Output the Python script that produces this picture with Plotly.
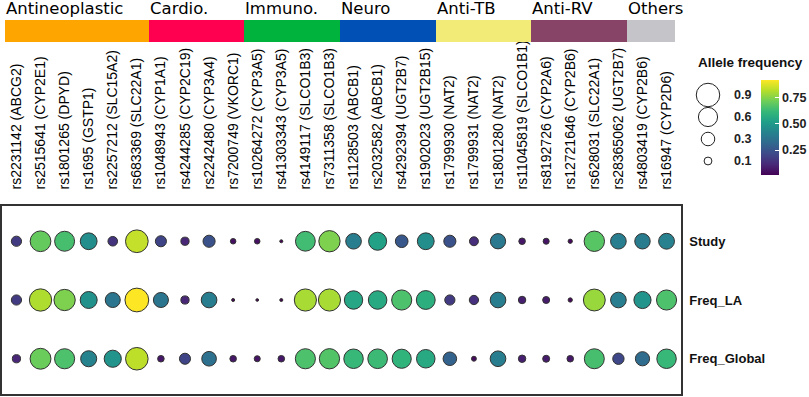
import plotly.graph_objects as go

# ---------------- data ----------------
snps = [
    "rs2231142 (ABCG2)", "rs2515641 (CYP2E1)", "rs1801265 (DPYD)", "rs1695 (GSTP1)",
    "rs2257212 (SLC15A2)", "rs683369 (SLC22A1)", "rs1048943 (CYP1A1)", "rs4244285 (CYP2C19)",
    "rs2242480 (CYP3A4)", "rs7200749 (VKORC1)", "rs10264272 (CYP3A5)", "rs41303343 (CYP3A5)",
    "rs4149117 (SLCO1B3)", "rs7311358 (SLCO1B3)", "rs1128503 (ABCB1)", "rs2032582 (ABCB1)",
    "rs4292394 (UGT2B7)", "rs1902023 (UGT2B15)", "rs1799930 (NAT2)", "rs1799931 (NAT2)",
    "rs1801280 (NAT2)", "rs11045819 (SLCO1B1)", "rs8192726 (CYP2A6)", "rs12721646 (CYP2B6)",
    "rs628031 (SLC22A1)", "rs28365062 (UGT2B7)", "rs4803419 (CYP2B6)", "rs16947 (CYP2D6)",
]

rows = ["Study", "Freq_LA", "Freq_Global"]

study = [0.17, 0.70, 0.65, 0.46, 0.15, 0.84, 0.20, 0.11, 0.24, 0.05, 0.05, 0.015,
         0.64, 0.74, 0.40, 0.53, 0.26, 0.46, 0.24, 0.13, 0.38, 0.07, 0.06, 0.03,
         0.68, 0.40, 0.39, 0.41]
freq_la = [0.17, 0.81, 0.74, 0.47, 0.37, 0.92, 0.37, 0.11, 0.40, 0.015, 0.012, 0.015,
           0.80, 0.80, 0.55, 0.56, 0.66, 0.58, 0.17, 0.14, 0.40, 0.09, 0.08, 0.03,
           0.78, 0.40, 0.48, 0.66]
freq_global = [0.11, 0.71, 0.66, 0.42, 0.48, 0.83, 0.07, 0.20, 0.35, 0.07, 0.06, 0.07,
               0.66, 0.67, 0.62, 0.63, 0.60, 0.56, 0.30, 0.04, 0.40, 0.09, 0.08, 0.07,
               0.65, 0.21, 0.33, 0.62]

categories = ["Antineoplastic", "Cardio.", "Immuno.", "Neuro", "Anti-TB", "Anti-RV", "Others"]
category_counts = [6, 4, 4, 4, 4, 4, 2]
category_colors = ["#FFA500", "#FF0050", "#00B33C", "#0050B5", "#F2EB77", "#874466", "#C5C5C9"]

size_legend_values = [0.9, 0.6, 0.3, 0.1]
colorbar_ticks = [0.25, 0.50, 0.75]
colorbar_ticktext = ["0.25", "0.50", "0.75"]

# ---------------- helpers ----------------
W, H = 809, 397
def px_x(p):
    return p / W
def px_y(p):
    return 1 - p / H

all_vals = study + freq_la + freq_global
vmin, vmax = min(all_vals), max(all_vals)
SIZEREF = 2 * 0.9 / (23.5 ** 2)

xs, ys, vs = [], [], []
for name, vals in zip(rows, [study, freq_la, freq_global]):
    for s, v in zip(snps, vals):
        xs.append(s)
        ys.append(name)
        vs.append(v)

fig = go.Figure()

# main bubble trace
fig.add_trace(go.Scatter(
    x=xs, y=ys, mode="markers",
    marker=dict(
        size=vs, sizemode="area", sizeref=SIZEREF, sizemin=0, opacity=1,
        color=vs, colorscale="Viridis", cmin=vmin, cmax=vmax,
        line=dict(color="#333333", width=1.0),
        showscale=True,
        colorbar=dict(
            x=px_x(761), xanchor="left", xpad=0,
            y=px_y(80), yanchor="top", ypad=0,
            len=95, lenmode="pixels", thickness=18, outlinewidth=0,
            tickvals=colorbar_ticks, ticktext=colorbar_ticktext,
            ticks="inside", ticklen=4, tickcolor="white", tickwidth=1,
            tickfont=dict(family="Liberation Sans", size=12.5, color="#222", weight="bold"),
        ),
    ),
    hoverinfo="skip", showlegend=False, cliponaxis=False,
))

# size legend
fig.add_trace(go.Scatter(
    x=[0.5] * len(size_legend_values), y=list(range(len(size_legend_values))),
    xaxis="x2", yaxis="y2", mode="markers",
    marker=dict(size=size_legend_values, sizemode="area", sizeref=SIZEREF, opacity=1,
                color="white", line=dict(color="#222", width=1)),
    hoverinfo="skip", showlegend=False, cliponaxis=False,
))

# category bar
col_cat_colors = []
for c, n in zip(category_colors, category_counts):
    col_cat_colors += [c] * n
fig.add_trace(go.Bar(
    x=list(range(len(snps))), y=[1] * len(snps), width=1.0,
    xaxis="x4", yaxis="y3",
    marker=dict(color=col_cat_colors, line=dict(width=0)),
    hoverinfo="skip", showlegend=False,
))

annotations = []
start = 0
for name, n in zip(categories, category_counts):
    annotations.append(dict(
        x=start - 0.5, xref="x4", xanchor="left",
        y=px_y(19), yref="paper", yanchor="bottom",
        text=name, showarrow=False,
        font=dict(family="DejaVu Sans", size=16.5, color="black"),
        borderpad=0,
    ))
    start += n

annotations.append(dict(
    x=px_x(696), xref="paper", xanchor="left",
    y=px_y(63), yref="paper", yanchor="middle",
    text="<b>Allele frequency</b>", showarrow=False,
    font=dict(family="Liberation Sans", size=13.5, color="#111"),
))
for i, v in enumerate(size_legend_values):
    annotations.append(dict(
        x=px_x(732), xref="paper", xanchor="left",
        y=i, yref="y2", yanchor="middle",
        text=f"<b>{v}</b>", showarrow=False,
        font=dict(family="Liberation Sans", size=12.5, color="#222"),
    ))

fig.update_layout(
    width=W, height=H,
    margin=dict(l=0, r=0, t=0, b=0, autoexpand=False),
    paper_bgcolor="white", plot_bgcolor="white",
    bargap=0,
    xaxis=dict(
        domain=[px_x(2), px_x(681)], type="category", categoryorder="array", categoryarray=snps,
        range=[-0.6, len(snps) - 0.4], side="top", tickangle=-90,
        showline=True, mirror=True, linecolor="#333", linewidth=1.5,
        showgrid=False, zeroline=False, ticks="",
        tickfont=dict(family="Liberation Sans", size=14, color="#000"),
        ticklabelstandoff=12, anchor="y", automargin=False,
    ),
    yaxis=dict(
        domain=[px_y(394), px_y(206)], type="category", categoryorder="array",
        categoryarray=rows[::-1], range=[-0.6, len(rows) - 0.4], side="right",
        showline=True, mirror=True, linecolor="#333", linewidth=1.5,
        showgrid=False, zeroline=False, ticks="",
        tickfont=dict(family="Liberation Sans", size=13, color="#111", weight="bold"),
        ticklabelstandoff=4, anchor="x", automargin=False,
    ),
    xaxis2=dict(domain=[px_x(698), px_x(718)], range=[0, 1], visible=False, anchor="y2"),
    yaxis2=dict(domain=[px_y(172), px_y(84)], range=[len(size_legend_values) - 0.5, -0.5],
                visible=False, anchor="x2"),
    xaxis4=dict(domain=[px_x(5), px_x(675)], range=[-0.5, len(snps) - 0.5], visible=False, anchor="y3"),
    yaxis3=dict(domain=[px_y(42), px_y(20)], range=[0, 1], visible=False, anchor="x4"),
    annotations=annotations,
)

fig.write_html("out.html", config={"displayModeBar": False},
               post_script="document.body.style.margin='0';document.body.style.overflow='hidden';")
